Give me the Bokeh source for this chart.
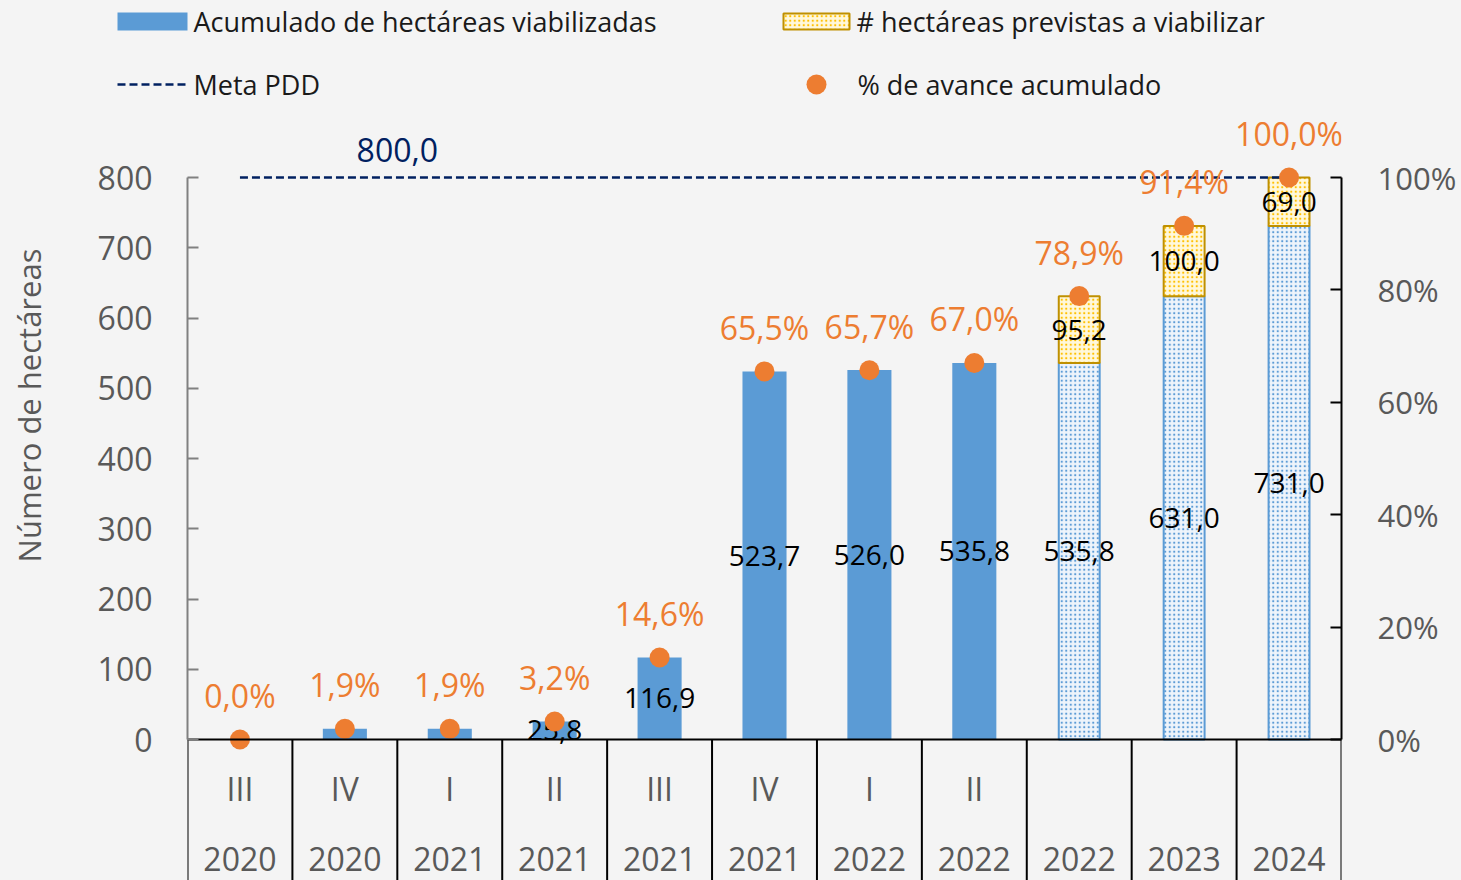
import math
from bokeh.plotting import figure
from bokeh.layouts import column, row
from bokeh.models import (ColumnDataSource, Range1d, LinearAxis, FixedTicker,
                          CustomJSTickFormatter)
from bokeh.core.properties import value
from bokeh.embed import file_html
from bokeh.resources import INLINE

# ---------------- data ----------------
trimestres = ["III", "IV", "I", "II", "III", "IV", "I", "II", "", "", ""]
anios = ["2020", "2020", "2021", "2021", "2021", "2021", "2022", "2022", "2022", "2023", "2024"]
acumulado = [0.0, 15.2, 15.2, 25.8, 116.9, 523.7, 526.0, 535.8, 535.8, 631.0, 731.0]
previstas = [0.0, 0.0, 0.0, 0.0, 0.0, 0.0, 0.0, 0.0, 95.2, 100.0, 69.0]
avance_pct = [0.0, 1.9, 1.9, 3.2, 14.6, 65.5, 65.7, 67.0, 78.9, 91.4, 100.0]
es_proyeccion = [False, False, False, False, False, False, False, False, True, True, True]
muestra_valor = [False, False, False, True, True, True, True, True, True, True, True]
meta_pdd = 800.0
ticks_hectareas = [0, 100, 200, 300, 400, 500, 600, 700, 800]
ticks_pct = [0, 20, 40, 60, 80, 100]
leyenda = ["Acumulado de hectáreas viabilizadas", "# hectáreas previstas a viabilizar",
           "Meta PDD", "% de avance acumulado"]
titulo_y = "Número de hectáreas"

# ---------------- style ----------------
FONT = "Open Sans"
BLUE = "#5B9BD5"
BLUE_TINT = "#EEF4FB"
ORANGE = "#ED7D31"
NAVY = "#002060"
GOLD_LINE = "#BF9000"
GOLD_DOT = "#FFC000"
GOLD_TINT = "#FFF8DC"
GRAY = "#595959"
AXGRAY = "#808080"
BG = "#F4F4F4"


def fmt(v):
    return f"{v:.1f}".replace(".", ",")


# ---------------- layout (page pixels) ----------------
W = 1461
LEG_H = 108
MAIN_H = 772
TITLE_W = 60
FRAME_LEFT = 187
FRAME_RIGHT = 1341
ZERO_PAGE = 739               # page y of value 0
TOP_PAGE = 177                # page y of axis max
ymax = ticks_hectareas[-1]
k = (ZERO_PAGE - TOP_PAGE) / ymax
y_end = (ZERO_PAGE - LEG_H) / k
y_start = -(LEG_H + MAIN_H - ZERO_PAGE) / k

n = len(anios)
xs = list(range(n))


def blank(width, height, xr, yr):
    f = figure(width=width, height=height, x_range=xr, y_range=yr,
               output_backend="svg", toolbar_location=None,
               x_axis_location=None, y_axis_location=None, min_border=0,
               background_fill_color=BG, border_fill_color=BG, outline_line_color=None)
    f.grid.visible = False
    return f


# ---------------- legend figure ----------------
leg = blank(W, LEG_H, Range1d(0, W), Range1d(LEG_H, 0))
R1, R2 = 21, 84
C1, C2 = 117, 782
SW = 70
leg.rect(x=[C1 + SW / 2], y=[R1], width=SW, height=18, fill_color=BLUE, line_color=None)
leg.rect(x=[C2 + 34], y=[R1], width=66, height=16, fill_color=GOLD_TINT,
         hatch_pattern="dot", hatch_color=GOLD_DOT, hatch_scale=4.5, hatch_weight=2,
         line_color=GOLD_LINE, line_width=2)
leg.segment(x0=[C1], y0=[R2], x1=[C1 + SW], y1=[R2], line_color=NAVY,
            line_width=2.5, line_dash="8 4")
leg.scatter(x=[C2 + 34], y=[R2], size=20, fill_color=ORANGE, line_color=None)
leg.text(x=[C1 + SW + 6, C2 + 74, C1 + SW + 6, C2 + 75], y=[R1, R1, R2, R2], text=leyenda,
         text_font=value(FONT), text_font_size="27px", text_color="#1A1A1A",
         text_baseline="middle", text_align="left")

# ---------------- y-axis title figure ----------------
tit = blank(TITLE_W, MAIN_H, Range1d(0, TITLE_W), Range1d(MAIN_H, 0))
tit.text(x=[28], y=[405 - LEG_H], text=[titulo_y], angle=math.pi / 2,
         text_font=value(FONT), text_font_size="31px", text_color=GRAY,
         text_align="center", text_baseline="middle")

# ---------------- main figure ----------------
p = figure(width=W - TITLE_W, height=MAIN_H, x_range=Range1d(-0.5, n - 0.5),
           y_range=Range1d(y_start, y_end),
           output_backend="svg", toolbar_location=None,
           x_axis_location=None, y_axis_location=None,
           min_border_left=FRAME_LEFT - TITLE_W, min_border_right=W - FRAME_RIGHT,
           min_border_top=0, min_border_bottom=0,
           background_fill_color=BG, border_fill_color=BG, outline_line_color=None)
p.grid.visible = False

p.extra_y_ranges = {"pct": Range1d(y_start * 100 / ymax, y_end * 100 / ymax)}

yl = LinearAxis(ticker=FixedTicker(ticks=ticks_hectareas), bounds=(0, ymax),
                major_tick_in=11, major_tick_out=0, minor_tick_in=0, minor_tick_out=0,
                major_label_standoff=35, axis_line_color=AXGRAY, axis_line_width=2,
                major_tick_line_color=AXGRAY, major_tick_line_width=2,
                major_label_text_font=FONT, major_label_text_font_size="32px",
                major_label_text_color=GRAY)
p.add_layout(yl, "left")

yr = LinearAxis(y_range_name="pct", ticker=FixedTicker(ticks=ticks_pct), bounds=(0, 100),
                formatter=CustomJSTickFormatter(code="return tick.toFixed(0) + '%';"),
                major_tick_in=11, major_tick_out=0, minor_tick_in=0, minor_tick_out=0,
                major_label_standoff=36, axis_line_color="black", axis_line_width=2,
                major_tick_line_color="black", major_tick_line_width=2,
                major_label_text_font=FONT, major_label_text_font_size="31px",
                major_label_text_color=GRAY)
p.add_layout(yr, "right")

# solid bars (executed)
solid = ColumnDataSource(dict(
    x=[i for i in xs if not es_proyeccion[i]],
    top=[acumulado[i] for i in xs if not es_proyeccion[i]]))
p.vbar(x="x", top="top", bottom=0, width=0.42, source=solid,
       fill_color=BLUE, line_color=None)

# projected (hatched) accumulated bars
proj = ColumnDataSource(dict(
    x=[i for i in xs if es_proyeccion[i]],
    top=[acumulado[i] for i in xs if es_proyeccion[i]]))
p.vbar(x="x", top="top", bottom=0, width=0.39, source=proj,
       fill_color=BLUE_TINT, hatch_pattern="dot", hatch_color=BLUE, hatch_scale=4.5,
       hatch_weight=2, line_color=BLUE, line_width=2)

# stacked hectares to be made viable
prev_idx = [i for i in xs if previstas[i] > 0]
prev = ColumnDataSource(dict(
    x=prev_idx,
    bottom=[acumulado[i] for i in prev_idx],
    top=[acumulado[i] + previstas[i] for i in prev_idx]))
p.vbar(x="x", top="top", bottom="bottom", width=0.39, source=prev,
       fill_color=GOLD_TINT, hatch_pattern="dot", hatch_color=GOLD_DOT, hatch_scale=4.5,
       hatch_weight=2, line_color=GOLD_LINE, line_width=2)

# meta line
p.line(x=[xs[0], xs[-1]], y=[meta_pdd, meta_pdd], line_color=NAVY, line_width=2.5,
       line_dash="8 4")
p.text(x=[1.5], y=[meta_pdd], text=[fmt(meta_pdd)], y_offset=-28,
       text_font=value(FONT), text_font_size="32px", text_color=NAVY,
       text_align="center", text_baseline="middle")

# value labels
val_i = [i for i in xs if muestra_valor[i]]
p.text(x=val_i, y=[acumulado[i] / 2 for i in val_i], text=[fmt(acumulado[i]) for i in val_i],
       text_font=value(FONT), text_font_size="28px", text_color="black",
       text_align="center", text_baseline="middle")
p.text(x=prev_idx, y=[acumulado[i] + previstas[i] / 2 for i in prev_idx],
       text=[fmt(previstas[i]) for i in prev_idx],
       text_font=value(FONT), text_font_size="28px", text_color="black",
       text_align="center", text_baseline="middle")

# percentage points
p.scatter(x=xs, y=avance_pct, y_range_name="pct", size=20,
          fill_color=ORANGE, line_color=None)
p.text(x=xs, y=avance_pct, y_range_name="pct", text=[fmt(v) + "%" for v in avance_pct],
       y_offset=-44, text_font=value(FONT), text_font_size="32px", text_color=ORANGE,
       text_align="center", text_baseline="middle")

# category table below the axis
edges = [i - 0.5 for i in range(n + 1)]
p.segment(x0=edges, y0=[0] * len(edges), x1=edges, y1=[y_start] * len(edges),
          line_color="black", line_width=2)
p.segment(x0=[edges[0]], y0=[0], x1=[edges[-1]], y1=[0], line_color="black", line_width=2)
p.text(x=xs, y=[0] * n, text=trimestres, y_offset=49,
       text_font=value(FONT), text_font_size="32px", text_color=GRAY,
       text_align="center", text_baseline="middle")
p.text(x=xs, y=[0] * n, text=anios, y_offset=119,
       text_font=value(FONT), text_font_size="32px", text_color=GRAY,
       text_align="center", text_baseline="middle")

inner = row(tit, p, spacing=0, styles={"background-color": BG})
layout = column(leg, inner, spacing=0, styles={"background-color": BG})
open("out.html", "w").write(file_html(layout, INLINE))
